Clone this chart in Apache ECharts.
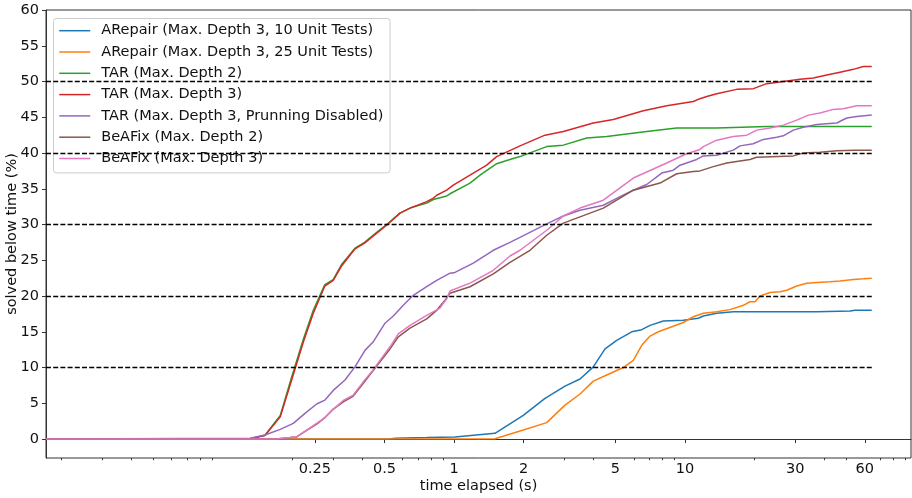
<!DOCTYPE html>
<html>
<head>
<meta charset="utf-8">
<script src="https://cdn.jsdelivr.net/npm/echarts@6/dist/echarts.min.js"></script>
<style>
  html, body { margin: 0; padding: 0; background: #ffffff; }
  #chart { width: 912px; height: 498px; }
</style>
</head>
<body>
<div id="chart"></div>
<script>
// Share of tasks solved within a time budget (log-scaled time axis).
const xTickValues = [0.25, 0.5, 1, 2, 5, 10, 30, 60];
const xMinorTicks = [0.02, 0.03, 0.04, 0.05, 0.06, 0.07, 0.08, 0.09,
                     0.2, 0.3, 0.4, 0.6, 0.7, 0.8, 0.9,
                     3, 4, 6, 7, 8, 9, 20, 40, 50, 70, 80, 90];
const yTickValues = [0, 5, 10, 15, 20, 25, 30, 35, 40, 45, 50, 55, 60];
const referenceLevels = [10, 20, 30, 40, 50];
const timeStart = 0.01714;
const timeEnd = 64.31;

const seriesNames = [
  'ARepair (Max. Depth 3, 10 Unit Tests)',
  'ARepair (Max. Depth 3, 25 Unit Tests)',
  'TAR (Max. Depth 2)',
  'TAR (Max. Depth 3)',
  'TAR (Max. Depth 3, Prunning Disabled)',
  'BeAFix (Max. Depth 2)',
  'BeAFix (Max. Depth 3)'
];

// [time (s), solved (%)]
const arepair10 = [[0.01714,0],[0.52,0],[0.56,0.1],[0.762,0.2],[1.010,0.3],[1.505,0.8],[1.995,3.3],
  [2.477,5.7],[3.024,7.4],[3.512,8.4],[4.009,10.1],[4.506,12.6],[5.061,13.8],[5.879,15.0],[6.495,15.3],
  [7.055,15.9],[8.056,16.5],[9.831,16.6],[11.42,16.9],[12.00,17.2],[13.72,17.6],[16.19,17.8],[37.17,17.8],
  [51.80,17.9],[54.45,18.0],[64.31,18.0]];

const arepair25 = [[0.01714,0],[1.505,0.05],[1.995,1.26],[2.520,2.3],[3.024,4.75],[3.512,6.3],[4.009,8.1],
  [4.582,8.95],[5.407,10.0],[5.973,11.0],[6.495,13.1],[7.055,14.4],[7.664,15.0],[9.831,16.3],[10.86,17.1],
  [12.00,17.6],[13.72,17.8],[15.66,18.1],[17.88,18.7],[19.11,19.2],[20.09,19.2],[21.12,20.0],[23.33,20.5],
  [25.78,20.6],[27.56,20.8],[30.45,21.4],[33.63,21.8],[37.17,21.9],[42.44,22.0],[46.88,22.1],[53.54,22.3],
  [59.15,22.4],[64.31,22.5]];

const tarDepth2 = [[0.01714,0],[0.130,0],[0.152,0.55],[0.177,3.3],[0.198,8.6],[0.223,14.0],[0.246,18.0],
  [0.276,21.6],[0.300,22.3],[0.326,24.4],[0.373,26.7],[0.410,27.5],[0.463,28.9],[0.511,30.0],[0.584,31.6],
  [0.645,32.3],[0.656,32.4],[0.762,33.0],[0.814,33.5],[0.930,34.0],[0.961,34.3],[1.173,35.8],[1.296,36.9],
  [1.530,38.5],[1.747,39.1],[1.931,39.5],[2.520,40.9],[2.973,41.1],[3.754,42.1],[4.582,42.3],[6.827,43.0],
  [9.208,43.5],[13.72,43.5],[22.58,43.7],[64.31,43.7]];

const tarDepth3 = [[0.01714,0],[0.130,0],[0.152,0.5],[0.177,3.1],[0.198,8.2],[0.223,13.6],[0.246,17.6],
  [0.276,21.4],[0.300,22.2],[0.326,24.2],[0.373,26.6],[0.410,27.4],[0.463,28.8],[0.511,29.9],[0.584,31.6],
  [0.645,32.3],[0.656,32.5],[0.762,33.2],[0.814,33.7],[0.842,34.1],[0.930,34.8],[0.993,35.5],[1.173,36.9],
  [1.385,38.3],[1.530,39.5],[1.931,41.0],[2.477,42.5],[2.973,43.0],[4.009,44.2],[4.892,44.7],[6.600,45.9],
  [8.333,46.6],[10.86,47.2],[11.61,47.6],[12.42,47.9],[13.72,48.3],[16.74,48.9],[19.75,49.0],[22.58,49.7],
  [26.65,50.0],[31.46,50.3],[35.93,50.5],[41.06,50.9],[46.88,51.3],[53.54,51.7],[59.15,52.1],[64.31,52.1]];

const tarNoPruning = [[0.01714,0],[0.131,0.1],[0.152,0.56],[0.177,1.35],[0.2015,2.2],[0.2265,3.6],
  [0.2544,4.9],[0.2763,5.45],[0.3002,6.8],[0.3374,8.25],[0.3726,10.1],[0.4118,12.4],[0.4472,13.6],
  [0.5027,16.2],[0.5462,17.2],[0.6033,18.7],[0.6665,20.1],[0.7616,21.3],[0.8415,22.2],[0.9609,23.2],
  [1.010,23.3],[1.212,24.6],[1.480,26.4],[1.747,27.5],[1.931,28.2],[2.520,30.1],[2.973,31.2],[3.512,32.0],
  [4.430,32.7],[5.232,33.9],[5.973,34.8],[6.827,35.6],[7.928,37.2],[8.901,37.6],[9.515,38.3],[11.24,39.1],
  [12.00,39.6],[13.72,39.7],[16.19,40.4],[17.30,41.0],[19.75,41.3],[21.83,41.9],[24.95,42.2],[26.65,42.4],
  [29.44,43.2],[32.51,43.6],[37.17,44.0],[45.36,44.2],[50.12,44.9],[55.39,45.1],[64.31,45.3]];

const beafixDepth2 = [[0.01714,0],[0.170,0],[0.195,0.2],[0.2084,0.3],[0.2303,1.2],[0.2544,2.1],
  [0.2763,3.0],[0.3002,4.2],[0.3318,5.2],[0.3664,6.0],[0.4050,7.8],[0.4401,9.3],[0.4783,10.8],
  [0.5284,12.6],[0.5740,14.3],[0.6449,15.5],[0.7616,16.8],[0.8415,18.0],[0.9142,19.4],[0.9609,20.4],
  [1.173,21.3],[1.480,23.1],[1.747,24.7],[2.133,26.4],[2.520,28.5],[2.973,30.2],[4.430,32.3],[5.973,34.8],
  [7.795,35.8],[9.208,37.1],[10.86,37.4],[11.61,37.5],[13.26,38.1],[15.16,38.6],[19.11,39.1],[20.43,39.4],
  [29.44,39.6],[32.51,40.0],[38.41,40.1],[45.36,40.3],[54.45,40.4],[64.31,40.4]];

const beafixDepth3 = [[0.01714,0],[0.170,0],[0.195,0.2],[0.2084,0.3],[0.2303,1.26],[0.2544,2.2],
  [0.2763,3.0],[0.3002,4.15],[0.3318,5.4],[0.3664,6.15],[0.4050,8.0],[0.4401,9.4],[0.4783,11.0],
  [0.5284,12.9],[0.5740,14.7],[0.6449,15.9],[0.7616,17.3],[0.8697,18.3],[0.8990,19.0],[0.9298,19.6],
  [0.9609,20.7],[1.173,21.8],[1.480,23.6],[1.747,25.6],[1.931,26.4],[2.520,29.2],[2.973,31.2],[3.512,32.3],
  [4.430,33.4],[5.973,36.5],[8.333,38.6],[10.17,39.9],[11.61,40.5],[12.00,40.9],[13.72,41.8],[16.19,42.3],
  [18.50,42.5],[20.43,43.2],[23.33,43.5],[26.65,43.9],[30.45,44.6],[34.18,45.3],[38.41,45.6],[43.85,46.1],
  [48.45,46.2],[55.39,46.6],[64.31,46.6]];

const seriesData = [arepair10, arepair25, tarDepth2, tarDepth3, tarNoPruning, beafixDepth2, beafixDepth3];
const seriesColors = ['#1f77b4', '#ff7f0e', '#2ca02c', '#d62728', '#9467bd', '#8c564b', '#e377c2'];

const FONT = 'DejaVu Sans';
const TEXT_COLOR = '#111111';
const AXIS_COLOR = '#333333';

const chart = echarts.init(document.getElementById('chart'), null, { renderer: 'canvas' });

const lineSeries = seriesData.map((data, i) => ({
  name: seriesNames[i],
  type: 'line',
  data: data,
  xAxisIndex: 0,
  yAxisIndex: 0,
  symbol: 'none',
  showSymbol: false,
  animation: false,
  lineStyle: { color: seriesColors[i], width: 1.5 },
  itemStyle: { color: seriesColors[i] },
  z: 3
}));

// Dashed horizontal guides spanning the sampled time range
const guideSeries = {
  name: 'guides',
  type: 'line',
  data: [],
  symbol: 'none',
  silent: true,
  animation: false,
  z: 2,
  markLine: {
    silent: true,
    symbol: ['none', 'none'],
    animation: false,
    label: { show: false },
    lineStyle: { color: '#000000', type: [5, 2.2], width: 1.4 },
    data: referenceLevels.map(v => [{ coord: [timeStart, v] }, { coord: [timeEnd, v] }])
  }
};

const option = {
  backgroundColor: '#ffffff',
  animation: false,
  grid: {
    left: 46, right: 1, top: 10, bottom: 40,
    outerBoundsMode: 'none',
    containLabel: false,
    show: true, borderColor: AXIS_COLOR, borderWidth: 1, backgroundColor: 'transparent'
  },
  legend: {
    orient: 'vertical',
    left: 53.5,
    top: 18.5,
    padding: [4.7, 6.7, 6.9, 5],
    itemWidth: 31,
    itemHeight: 15,
    itemGap: 6.3,
    backgroundColor: 'rgba(255,255,255,0.8)',
    borderColor: '#cccccc',
    borderWidth: 1,
    borderRadius: 3,
    itemStyle: { opacity: 0 },
    lineStyle: { width: 1.5 },
    data: seriesNames,
    textStyle: { fontFamily: FONT, fontSize: 14.5, color: TEXT_COLOR, padding: [0, 0, 0, 6] }
  },
  xAxis: [
    {
      type: 'log',
      logBase: 10,
      min: timeStart,
      max: 95.1,
      name: 'time elapsed (s)',
      nameLocation: 'middle',
      nameGap: 21,
      nameMoveOverlap: false,
      nameTextStyle: { fontFamily: FONT, fontSize: 14.5, color: TEXT_COLOR },
      axisLine: { show: true, lineStyle: { color: AXIS_COLOR, width: 1 } },
      axisTick: { show: true, length: 4, customValues: xTickValues, lineStyle: { color: AXIS_COLOR } },
      axisLabel: {
        customValues: xTickValues,
        fontFamily: FONT, fontSize: 14.5, color: TEXT_COLOR, margin: 4,
        formatter: v => String(+v.toPrecision(6))
      },
      splitLine: { show: false },
      minorTick: { show: false }
    },
    {
      type: 'log',
      logBase: 10,
      min: timeStart,
      max: 95.1,
      position: 'bottom',
      axisLine: { show: false },
      axisTick: { show: true, length: 2.2, customValues: xMinorTicks, lineStyle: { color: AXIS_COLOR } },
      axisLabel: { show: false },
      splitLine: { show: false }
    }
  ],
  yAxis: {
    type: 'value',
    min: -2.65,
    max: 60,
    name: 'solved below time (%)',
    nameLocation: 'middle',
    nameRotate: 90,
    nameGap: 26,
    nameMoveOverlap: false,
    nameTextStyle: { fontFamily: FONT, fontSize: 14.5, color: TEXT_COLOR },
    axisLine: { show: true, lineStyle: { color: AXIS_COLOR, width: 1 } },
    axisTick: { show: true, length: 4, customValues: yTickValues, lineStyle: { color: AXIS_COLOR } },
    axisLabel: { customValues: yTickValues, fontFamily: FONT, fontSize: 14.5, color: TEXT_COLOR, margin: 7 },
    splitLine: { show: false }
  },
  series: [guideSeries].concat(lineSeries)
};

chart.setOption(option);
</script>
</body>
</html>
